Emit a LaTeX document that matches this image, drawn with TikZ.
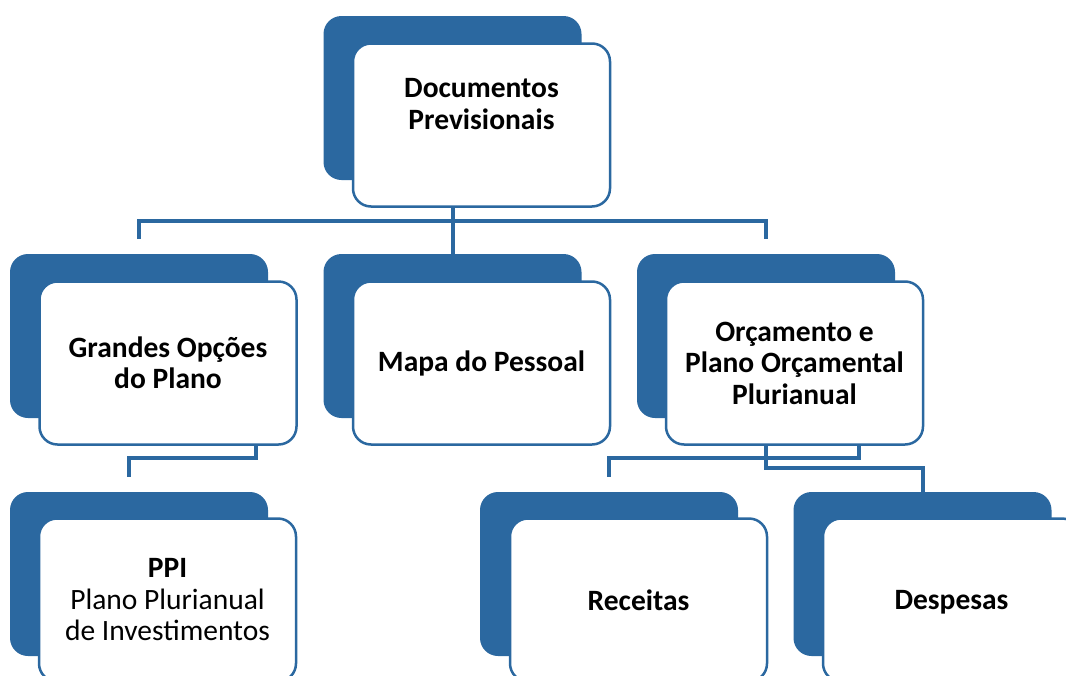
\documentclass[tikz,border=0pt]{standalone}
\usepackage{fontspec}
\setmainfont{Carlito}
\definecolor{mainblue}{HTML}{2B68A0}
\tikzset{
  backbox/.style={rectangle, rounded corners=18pt, fill=mainblue, draw=none,
    minimum width=258pt, minimum height=164pt, inner sep=0pt},
  frontbox/.style={rectangle, rounded corners=18pt, fill=white, draw=mainblue,
    line width=2.5pt, minimum width=257pt, minimum height=163pt, inner sep=0pt,
    align=center, font=\fontsize{29.5}{31.5}\selectfont\bfseries},
  boxtext/.style={align=center, inner sep=0pt, font=\fontsize{29.5}{31.5}\selectfont\bfseries},
  conn/.style={draw=mainblue, line width=4pt, line join=miter}
}
\begin{document}
\begin{tikzpicture}[x=1pt, y=-1pt]
\useasboundingbox (0,0) rectangle (1066,675);
\clip (0,0) rectangle (1066,675);

% coordinates for connector junctions
\coordinate (j1) at (452.5,221);
\coordinate (g1) at (256,458);
\coordinate (g2) at (129,458);
\coordinate (g3) at (129,477);
\coordinate (o1) at (859,458);
\coordinate (o2) at (766,468);

% back boxes
\node[backbox] (docB) at (452.5,98) {};
\node[backbox] (gopB) at (139,336) {};
\node[backbox] (mapB) at (452.5,336) {};
\node[backbox] (orcB) at (766,336) {};
\node[backbox] (ppiB) at (139,574) {};
\node[backbox] (recB) at (609,574) {};
\node[backbox] (desB) at (922.5,574) {};

% connectors
\draw[conn] (docB.center |- 0,207) -- (j1);
\draw[conn] (gopB.center |- 0,239) -- (gopB.center |- j1) -- (orcB.center |- j1) -- (orcB.center |- 0,239);
\draw[conn] (j1) -- (mapB.north);
\draw[conn] (g1 |- 0,444) -- (g1) -- (g2) -- (g3);
\draw[conn] (o1 |- 0,444) -- (o1) -- (recB.center |- o1) -- (recB.center |- 0,477);
\draw[conn] (o2 |- 0,444) -- (o2) -- (desB.center |- o2) -- (desB.north);

% front boxes
\node[frontbox] (doc) at (481.5,125) {};
\node[boxtext] (docT) at (481.5,104) {Documentos\\Previsionais};
\node[frontbox] (gop) at (168,363) {Grandes Opções\\do Plano};
\node[frontbox] (map) at (481.5,363) {Mapa do Pessoal};
\node[frontbox] (orc) at (794.5,363) {Orçamento e\\Plano Orçamental\\Plurianual};
\node[frontbox] (ppi) at (167.5,600) {PPI\\{\mdseries Plano Plurianual}\\{\mdseries de Investimentos}};
\node[frontbox] (rec) at (638.5,600) {Receitas};
\node[frontbox, text depth=0pt] (des) at (951.5,600) {Despesas};
\end{tikzpicture}
\end{document}
